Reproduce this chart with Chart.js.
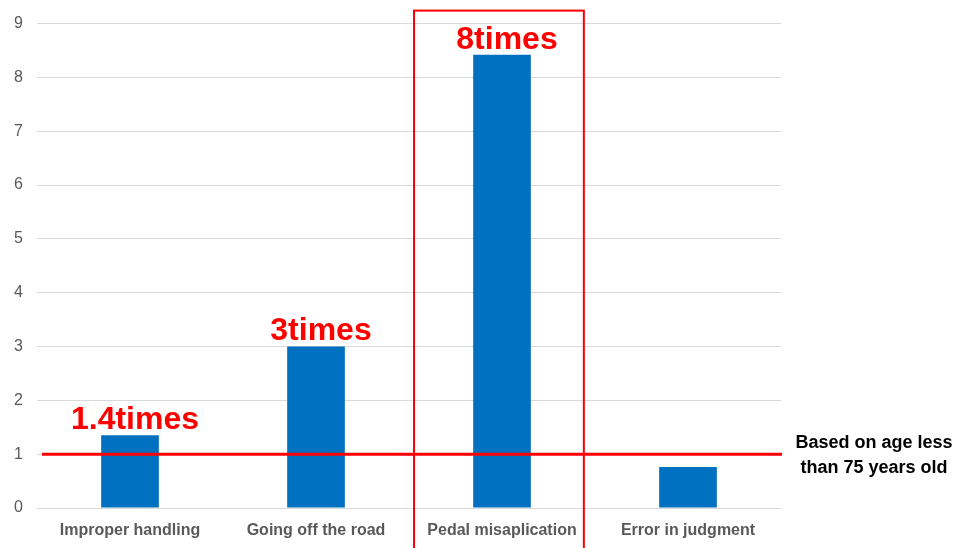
<!DOCTYPE html>
<html>
<head>
<meta charset="utf-8">
<script src="https://cdn.jsdelivr.net/npm/chart.js@4/dist/chart.umd.min.js"></script>
<style>
  html, body { margin: 0; padding: 0; background: #fff; }
  #wrap { width: 958px; height: 548px; }
</style>
</head>
<body>
<div id="wrap"><canvas id="accidentChart"></canvas></div>
<script>
// chart data
const categories = ["Improper handling", "Going off the road", "Pedal misaplication", "Error in judgment"]
const ratios = [1.35, 3.0, 8.42, 0.76]
const ratioLabels = ["1.4times", "3times", "8times", ""]
const yTicks = [0, 1, 2, 3, 4, 5, 6, 7, 8, 9]
const baseline = 1
const baselineText = ["Based on age less", "than 75 years old"]
const highlightIndex = 2

const red = "#FF0000"

// draws the baseline, highlight box and the "xtimes" labels
const annotations = {
    id: "annotations",
    afterDatasetsDraw(chart) {
        const ctx = chart.ctx
        const x = chart.scales.x
        const y = chart.scales.y
        const area = chart.chartArea
        const catW = (area.right - area.left) / categories.length

        ctx.save()

        // baseline at 1
        const yBase = y.getPixelForValue(baseline)
        ctx.strokeStyle = red
        ctx.lineWidth = 3
        ctx.beginPath()
        ctx.moveTo(area.left + 5, yBase)
        ctx.lineTo(area.right + 1, yBase)
        ctx.stroke()

        // highlight box
        const cx = x.getPixelForValue(highlightIndex)
        ctx.lineWidth = 2
        ctx.strokeRect(cx - catW * 0.473, area.top - 13, catW * 0.913, chart.height)

        // labels above bars
        ctx.fillStyle = red
        ctx.font = "bold 32px 'Liberation Sans', Arial, sans-serif"
        ctx.textAlign = "center"
        ctx.textBaseline = "middle"
        ratioLabels.forEach((lbl, i) => {
            if (!lbl) return
            const bx = x.getPixelForValue(i)
            const by = y.getPixelForValue(ratios[i])
            ctx.fillText(lbl, bx + 5, by - 15)
        })

        // baseline note
        ctx.fillStyle = "#000"
        ctx.font = "bold 18px 'Liberation Sans', Arial, sans-serif"
        baselineText.forEach((t, i) => {
            ctx.fillText(t, area.right + 93, yBase - 11 + i * 25)
        })

        ctx.restore()
    }
}

new Chart("accidentChart", {
    type: "bar",
    data: {
        labels: categories,
        datasets: [{
            data: ratios,
            backgroundColor: "#0070C0",
            barPercentage: 0.62,
            categoryPercentage: 0.5
        }]
    },
    options: {
        responsive: true,
        maintainAspectRatio: false,
        animation: false,
        layout: { padding: { top: 21, right: 177, left: 0, bottom: 0 } },
        plugins: {
            legend: { display: false },
            tooltip: { enabled: false }
        },
        scales: {
            x: {
                grid: { display: false },
                border: { display: false },
                ticks: {
                    color: "#595959",
                    font: { family: "'Liberation Sans', Arial, sans-serif", size: 16, weight: "bold" },
                    padding: 5,
                    maxRotation: 0
                },
                afterFit(scale) { scale.height = 40 }
            },
            y: {
                min: yTicks[0],
                max: yTicks[yTicks.length - 1],
                afterBuildTicks(scale) { scale.ticks = yTicks.map(v => ({ value: v })) },
                grid: { color: "#d9d9d9", lineWidth: 1, drawTicks: false },
                border: { display: false },
                ticks: {
                    color: "#595959",
                    font: { family: "'Liberation Sans', Arial, sans-serif", size: 16 },
                    padding: 14
                },
                afterFit(scale) { scale.width = 37 }
            }
        }
    },
    plugins: [annotations]
})
</script>
</body>
</html>
